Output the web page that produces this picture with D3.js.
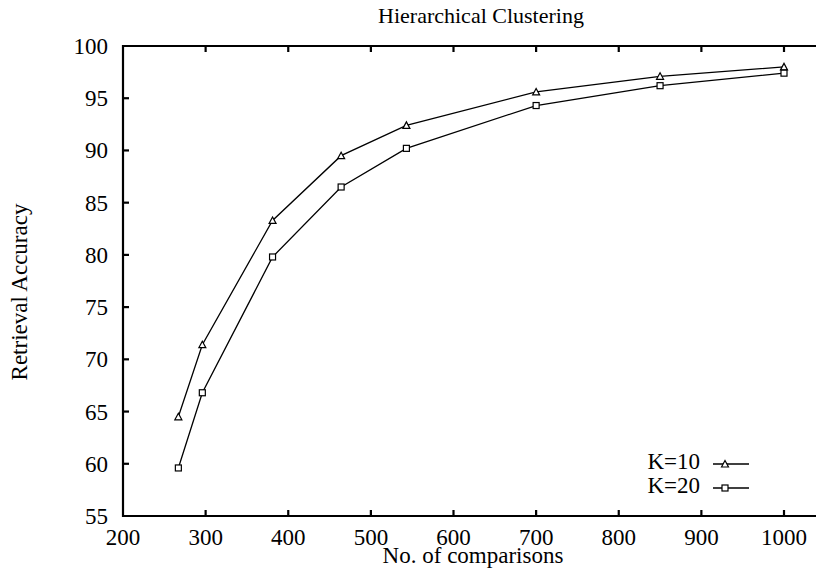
<!DOCTYPE html>
<html>
<head>
<meta charset="utf-8">
<script src="https://cdn.jsdelivr.net/npm/d3@7"></script>
<style>
  body { margin: 0; background: #fff; }
  svg { display: block; font-family: "Liberation Serif", "DejaVu Serif", serif; }
</style>
</head>
<body>
<svg id="chart" width="816" height="576"></svg>
<script>
// chart data
const comparisons = [267, 296, 381, 464, 543, 700, 850, 1000];
const k10 = [64.5, 71.4, 83.3, 89.5, 92.4, 95.6, 97.1, 98.0];
const k20 = [59.6, 66.8, 79.8, 86.5, 90.2, 94.3, 96.2, 97.4];
const xTicks = [200, 300, 400, 500, 600, 700, 800, 900, 1000];
const yTicks = [55, 60, 65, 70, 75, 80, 85, 90, 95, 100];
const seriesNames = ["K=10", "K=20"];

const width = 816, height = 576;
const plotLeft = 123, plotTop = 46, plotBottom = 516;
const fontSize = 23;

const svg = d3.select("#chart");

const x = d3.scaleLinear().domain([200, 1000]).range([plotLeft, 784]);
const y = d3.scaleLinear().domain([55, 100]).range([plotBottom, plotTop]);

// frame lines (left, top, bottom), the right side runs off the picture
const frame = svg.append("g").attr("stroke", "#000").attr("stroke-width", 2.2);
frame.append("line").attr("x1", plotLeft).attr("x2", plotLeft).attr("y1", plotTop - 1).attr("y2", plotBottom + 1);
frame.append("line").attr("x1", plotLeft - 1).attr("x2", width).attr("y1", plotTop).attr("y2", plotTop);
frame.append("line").attr("x1", plotLeft - 1).attr("x2", width).attr("y1", plotBottom).attr("y2", plotBottom);

// inward ticks
const tickLen = 6;
const ticks = svg.append("g").attr("stroke", "#000").attr("stroke-width", 2.2);
ticks.selectAll(".xb").data(xTicks.slice(1)).join("line")
  .attr("x1", d => x(d)).attr("x2", d => x(d))
  .attr("y1", plotBottom).attr("y2", plotBottom - tickLen);
ticks.selectAll(".xt").data(xTicks.slice(1)).join("line")
  .attr("x1", d => x(d)).attr("x2", d => x(d))
  .attr("y1", plotTop).attr("y2", plotTop + tickLen);
ticks.selectAll(".yl").data(yTicks.slice(1, -1)).join("line")
  .attr("x1", plotLeft).attr("x2", plotLeft + tickLen)
  .attr("y1", d => y(d)).attr("y2", d => y(d));

// tick labels
svg.append("g").selectAll("text").data(xTicks).join("text")
  .attr("x", d => x(d)).attr("y", 545)
  .attr("text-anchor", "middle").attr("font-size", fontSize)
  .text(d => d);
svg.append("g").selectAll("text").data(yTicks).join("text")
  .attr("x", 108).attr("y", d => y(d) + 8)
  .attr("text-anchor", "end").attr("font-size", fontSize)
  .text(d => d);

// titles
svg.append("text").attr("x", 481).attr("y", 23)
  .attr("text-anchor", "middle").attr("font-size", 22)
  .text("Hierarchical Clustering");
svg.append("text").attr("x", 473).attr("y", 563)
  .attr("text-anchor", "middle").attr("font-size", fontSize)
  .text("No. of comparisons");
svg.append("text")
  .attr("transform", "translate(27,292) rotate(-90)")
  .attr("text-anchor", "middle").attr("font-size", fontSize)
  .text("Retrieval Accuracy");

// lines and markers
const line = d3.line().x(d => x(d[0])).y(d => y(d[1]));
const series = [k10, k20].map(vals => comparisons.map((c, i) => [c, vals[i]]));

function drawMarker(g, kind, cx, cy) {
  if (kind === 0) {
    g.append("path")
      .attr("d", `M${cx - 3.5},${cy + 3}L${cx},${cy - 3.5}L${cx + 3.5},${cy + 3}Z`)
      .attr("fill", "#fff").attr("stroke", "#000").attr("stroke-width", 1.2);
  } else {
    g.append("rect")
      .attr("x", cx - 3).attr("y", cy - 3).attr("width", 6).attr("height", 6)
      .attr("fill", "#fff").attr("stroke", "#000").attr("stroke-width", 1.2);
  }
}

series.forEach((pts, k) => {
  svg.append("path").datum(pts)
    .attr("d", line)
    .attr("fill", "none").attr("stroke", "#000").attr("stroke-width", 1.3);
  const mg = svg.append("g");
  pts.forEach(p => drawMarker(mg, k, x(p[0]), y(p[1])));
});

// legend
seriesNames.forEach((name, k) => {
  const ly = 464 + k * 24;
  svg.append("text").attr("x", 700).attr("y", ly + 5)
    .attr("text-anchor", "end").attr("font-size", fontSize)
    .text(name);
  svg.append("line").attr("x1", 713).attr("x2", 749).attr("y1", ly).attr("y2", ly)
    .attr("stroke", "#000").attr("stroke-width", 1.3);
  drawMarker(svg, k, 725, ly);
});
</script>
</body>
</html>
